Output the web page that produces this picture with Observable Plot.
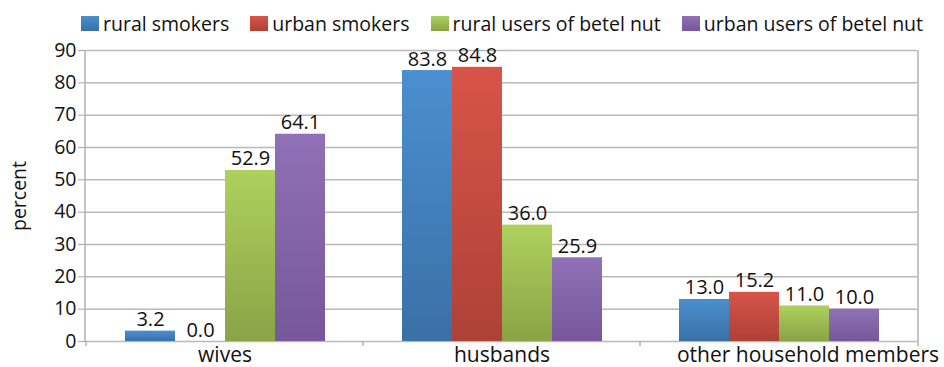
<!DOCTYPE html>
<html>
<head>
<meta charset="utf-8">
<script src="https://cdn.jsdelivr.net/npm/d3@7"></script>
<script src="https://cdn.jsdelivr.net/npm/@observablehq/plot@0.6"></script>
<style>
  html, body { margin: 0; padding: 0; background: #fff; }
  #wrap { position: relative; width: 944px; height: 367px; font-family: "Open Sans", sans-serif; }
  #legend { position: absolute; top: 10px; left: 81px; display: flex; align-items: center; font-size: 19.5px; color: #111; white-space: nowrap; }
  .item { display: flex; align-items: center; margin-right: 21px; }
  .sw { width: 18px; height: 15px; margin-right: 4px; }
  #chart { position: absolute; top: 0; left: 0; }
</style>
</head>
<body>
<div id="wrap">
  <div id="chart"></div>
  <div id="legend"></div>
</div>
<script>
const categories = ["wives", "husbands", "other household members"];
const series = ["rural smokers", "urban smokers", "rural users of betel nut", "urban users of betel nut"];
const ruralSmokers = [3.2, 83.8, 13.0];
const urbanSmokers = [0.0, 84.8, 15.2];
const ruralBetel = [52.9, 36.0, 11.0];
const urbanBetel = [64.1, 25.9, 10.0];
const yTicks = [0, 10, 20, 30, 40, 50, 60, 70, 80, 90];
const topColors = ["#4b8fd0", "#d85449", "#add15d", "#9071b7"];
const bottomColors = ["#3a70a6", "#ae4136", "#8aa346", "#76579a"];

const seriesValues = [ruralSmokers, urbanSmokers, ruralBetel, urbanBetel];
const data = [];
categories.forEach((c, i) => {
  series.forEach((s, j) => data.push({category: c, series: s, value: seriesValues[j][i]}));
});
const gradIds = series.map((s, i) => "grad" + i);

const chart = Plot.plot({
  width: 944,
  height: 367,
  marginTop: 50,
  marginBottom: 26,
  marginLeft: 85,
  marginRight: 26,
  style: {fontFamily: "Open Sans, sans-serif", fontSize: "19px", color: "#111", background: "#fff"},
  fx: {domain: categories, padding: 0, label: null, axis: null},
  x: {domain: series, paddingInner: 0, paddingOuter: 0.72, axis: null},
  y: {domain: [0, 90], label: null},
  color: {domain: series, range: gradIds.map(id => `url(#${id})`)},
  marks: [
    Plot.ruleY(yTicks, {stroke: "#b9b9b9", strokeWidth: 1.5}),
    Plot.barY(data, {fx: "category", x: "series", y: "value", fill: "series"}),
    Plot.text(data, {fx: "category", x: "series", y: "value", text: d => d.value.toFixed(1), lineAnchor: "bottom", dy: -5, fontSize: 20, fill: "#111"}),
    Plot.axisY({ticks: yTicks, tickSize: 8, tickPadding: 2, stroke: "#a8a8a8", fontSize: 19.5, label: "percent", labelAnchor: "center", labelArrow: "none", labelOffset: 74}),
    Plot.axisFx({anchor: "bottom", ticks: categories.slice(0, 2), tickSize: 0, tickPadding: 6, fontSize: 21, label: null}),
    Plot.axisFx({anchor: "bottom", ticks: categories.slice(2), tickSize: 0, tickPadding: 6, fontSize: 21, label: null, dx: 29})
  ]
});

// gradients
const svg = d3.select(chart);
const defs = svg.insert("defs", ":first-child");
gradIds.forEach((id, i) => {
  const g = defs.append("linearGradient").attr("id", id).attr("x1", 0).attr("y1", 0).attr("x2", 0).attr("y2", 1);
  g.append("stop").attr("offset", "0%").attr("stop-color", topColors[i]);
  g.append("stop").attr("offset", "100%").attr("stop-color", bottomColors[i]);
});

// plot-area border lines and category boundary ticks
const fxs = chart.scale("fx");
const ys = chart.scale("y");
const [x0, x1] = fxs.range;
const yBottom = ys.apply(0), yTop = ys.apply(90);
const frameG = svg.append("g").attr("stroke", "#b0b0b0").attr("stroke-width", 1.5);
frameG.append("line").attr("x1", x0).attr("x2", x0).attr("y1", yTop).attr("y2", yBottom);
frameG.append("line").attr("x1", x1).attr("x2", x1).attr("y1", yTop).attr("y2", yBottom);
categories.forEach(c => {
  const bx = fxs.apply(c);
  frameG.append("line").attr("x1", bx).attr("x2", bx).attr("y1", yBottom).attr("y2", yBottom + 5);
});
frameG.append("line").attr("x1", x1).attr("x2", x1).attr("y1", yBottom).attr("y2", yBottom + 5);

document.getElementById("chart").appendChild(chart);

// legend
const legend = d3.select("#legend");
series.forEach((s, i) => {
  const it = legend.append("div").attr("class", "item");
  it.append("div").attr("class", "sw").style("background", `linear-gradient(${topColors[i]}, ${bottomColors[i]})`);
  it.append("span").text(s);
});
</script>
</body>
</html>
